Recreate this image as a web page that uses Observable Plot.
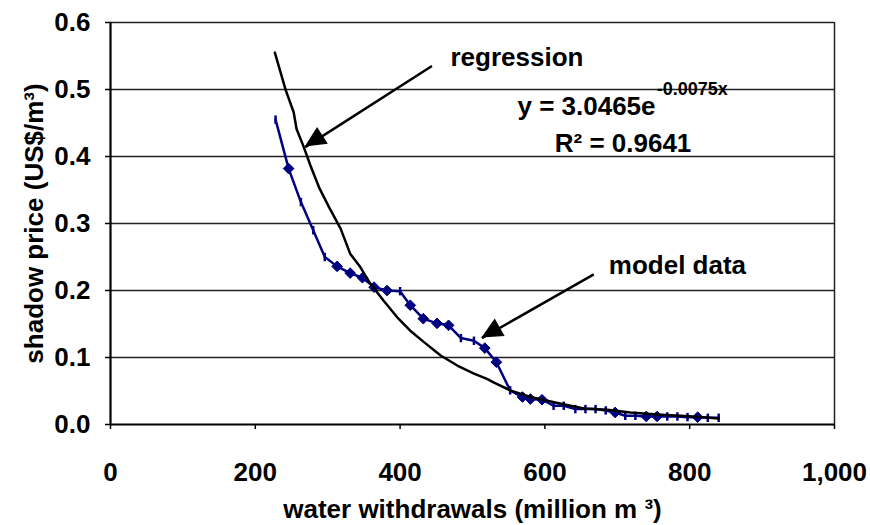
<!DOCTYPE html>
<html><head><meta charset="utf-8">
<script src="https://cdn.jsdelivr.net/npm/d3@7"></script>
<script src="https://cdn.jsdelivr.net/npm/@observablehq/plot@0.6"></script>
<style>
html,body{margin:0;padding:0;background:#fff;}
#chart svg{display:block;}
</style>
</head><body><div id="chart"></div>
<script>
// ---- data ----
const modelX = [228,246,263,280,296,313,331,348,364,382,400,414,432,451,467,484,502,517,533,552,569,580,596,612,626,642,656,670,684,697,711,725,740,755,769,783,797,811,825,840];
const modelY = [0.455,0.382,0.332,0.290,0.250,0.236,0.226,0.219,0.205,0.200,0.199,0.178,0.158,0.151,0.148,0.129,0.125,0.114,0.093,0.051,0.041,0.038,0.037,0.028,0.028,0.023,0.023,0.023,0.021,0.018,0.013,0.013,0.012,0.012,0.012,0.012,0.011,0.011,0.010,0.010];
const modelMarker = ["t","d","t","t","t","d","d","d","d","d","t","d","d","d","d","t","t","d","d","t","d","d","d","t","t","t","t","t","t","d","t","t","d","d","t","t","t","d","t","t"];

const regX = [227,242,253,257,267,276,288,302,318,331,345,359,377,396,414,433,456,479,502,520,529,552,580,622,654,686,718,755,787,805,840];
const regY = [0.555,0.499,0.466,0.441,0.414,0.387,0.354,0.324,0.292,0.255,0.235,0.210,0.185,0.160,0.140,0.123,0.103,0.088,0.076,0.068,0.063,0.051,0.041,0.031,0.024,0.022,0.018,0.015,0.013,0.012,0.009];

const xTicks = [0,200,400,600,800,1000];
const yTicks = [0,0.1,0.2,0.3,0.4,0.5,0.6];

// annotation arrows (data coordinates): tail -> tip
const arrowX1 = [444, 667.5];
const arrowY1 = [0.535, 0.224];
const arrowX2 = [269, 513];
const arrowY2 = [0.414, 0.129];

const xLabel = "water withdrawals (million m ³)";
const yLabel = "shadow price (US$/m³)";
const seriesLabels = ["regression", "model data"];
const eqMain = "y = 3.0465e";
const eqExp = "-0.0075x";
const r2Text = "R² = 0.9641";

// ---- build ----
const model = modelX.map((x, i) => ({x, y: modelY[i], m: modelMarker[i]}));
const reg = regX.map((x, i) => ({x, y: regY[i]}));
const arrows = arrowX1.map((x1, i) => ({x1, y1: arrowY1[i], x2: arrowX2[i], y2: arrowY2[i]}));

const vbar = {draw(context, size) { const h = Math.sqrt(size / Math.PI); context.moveTo(0, -h); context.lineTo(0, h); }};
const FONT = "'Liberation Sans', Arial, Helvetica, sans-serif";
const navy = "#000080";

const plot = Plot.plot({
  width: 870, height: 525,
  marginLeft: 110, marginRight: 36, marginTop: 22, marginBottom: 101,
  style: {fontFamily: FONT, fontWeight: "bold", fontSize: "26px", color: "#000", background: "#fff", overflow: "visible"},
  x: {domain: [0, 1000]},
  y: {domain: [0, 0.6]},
  marks: [
    Plot.ruleY(yTicks.filter(d => d > 0), {stroke: "#222", strokeWidth: 1.5}),
    Plot.ruleX([1000], {stroke: "#222", strokeWidth: 1.5, y1: 0, y2: 0.6}),
    Plot.axisX({ticks: xTicks, tickFormat: d3.format(","), tickSize: 5, tickPadding: 33, label: null, fontSize: 26, fontWeight: "bold", strokeWidth: 1.5}),
    Plot.axisY({ticks: yTicks, tickFormat: d3.format(".1f"), tickSize: 5, tickPadding: 15, label: null, fontSize: 26, fontWeight: "bold", strokeWidth: 1.5}),
    Plot.ruleY([0], {stroke: "#000", strokeWidth: 2.2}),
    Plot.ruleX([0], {stroke: "#000", strokeWidth: 2.2}),
    Plot.line(model, {x: "x", y: "y", stroke: navy, strokeWidth: 2.5}),
    Plot.dot(model.filter(d => d.m === "d"), {x: "x", y: "y", symbol: "diamond2", r: 4.8, fill: navy, stroke: navy, strokeWidth: 1}),
    Plot.dot(model.filter(d => d.m === "t"), {x: "x", y: "y", symbol: vbar, r: 4.2, fill: "none", stroke: navy, strokeWidth: 2.5}),
    Plot.line(reg, {x: "x", y: "y", stroke: "#000", strokeWidth: 2.5}),
    Plot.link(arrows, {x1: "x1", y1: "y1", x2: "x2", y2: "y2", stroke: "#000", strokeWidth: 2.5}),
    Plot.text([seriesLabels[0]], {x: 469.6, y: 0.5358, text: d => d, textAnchor: "start", lineAnchor: "bottom", fontSize: 26, fontWeight: "bold"}),
    Plot.text([seriesLabels[1]], {x: 688.3, y: 0.2239, text: d => d, textAnchor: "start", lineAnchor: "bottom", fontSize: 26, fontWeight: "bold"}),
    Plot.text([eqMain], {x: 752.8, y: 0.4622, text: d => d, textAnchor: "end", lineAnchor: "bottom", fontSize: 26, fontWeight: "bold"}),
    Plot.text([eqExp], {x: 754.5, y: 0.4915, text: d => d, textAnchor: "start", lineAnchor: "bottom", fontSize: 18, fontWeight: "bold"}),
    Plot.text([r2Text], {x: 707.9, y: 0.4064, text: d => d, textAnchor: "middle", lineAnchor: "bottom", fontSize: 26, fontWeight: "bold"}),
    Plot.text([yLabel], {frameAnchor: "left", dx: -68, rotate: -90, text: d => d, textAnchor: "middle", lineAnchor: "bottom", fontSize: 26, fontWeight: "bold"}),
    Plot.text([xLabel], {frameAnchor: "bottom", dy: 93, text: d => d, textAnchor: "middle", lineAnchor: "bottom", fontSize: 26, fontWeight: "bold"})
  ]
});

// filled arrowheads positioned through the plot's own scales
const svgEl = plot.tagName.toLowerCase() === "svg" ? plot : plot.querySelector("svg");
const sx = plot.scale("x"), sy = plot.scale("y");
const heads = d3.select(svgEl).append("g").attr("aria-label", "arrowheads");
arrows.forEach(a => {
  const x1 = sx.apply(a.x1), y1 = sy.apply(a.y1), x2 = sx.apply(a.x2), y2 = sy.apply(a.y2);
  const ang = Math.atan2(y2 - y1, x2 - x1);
  const L = 21, W = 10;
  const bx = x2 - L * Math.cos(ang), by = y2 - L * Math.sin(ang);
  const px = -Math.sin(ang), py = Math.cos(ang);
  heads.append("polygon")
    .attr("points", [[x2, y2], [bx + W * px, by + W * py], [bx - W * px, by - W * py]].map(p => p.join(",")).join(" "))
    .attr("fill", "#000");
});

document.getElementById("chart").append(plot);
</script>
</body></html>
